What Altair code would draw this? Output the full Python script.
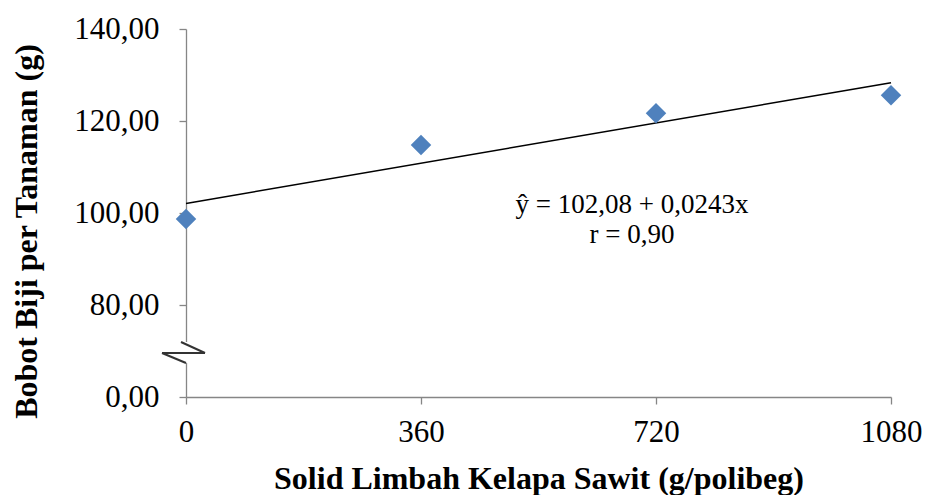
import altair as alt
import pandas as pd

# Data
dosis = [0, 360, 720, 1080]
bobot = [98.7, 114.8, 121.7, 125.6]

# Regression: y = 102.08 + 0.0243 x
intercept = 102.08
slope = 0.0243
line_x = [0, 1080]

y_ticks = [60, 80, 100, 120, 140]   # 60 is drawn as "0,00" (broken axis)
x_ticks = [0, 360, 720, 1080]

eq_line1 = "ŷ = 102,08 + 0,0243x"
eq_line2 = "r = 0,90"

pts = pd.DataFrame({"x": dosis, "y": bobot})
reg = pd.DataFrame({"x": line_x, "y": [intercept + slope * v for v in line_x]})

FONT = "Liberation Serif"
AXC = "#868686"

xscale = alt.Scale(domain=[0, 1080], nice=False, zero=False)
yscale = alt.Scale(domain=[60, 140], nice=False, zero=False)

xaxis = alt.Axis(
    values=x_ticks, title="Solid Limbah Kelapa Sawit (g/polibeg)", grid=False,
    format="d",
    domainColor=AXC, tickColor=AXC, tickSize=7, domainWidth=1.3, tickWidth=1.3,
    labelFont=FONT, labelFontSize=31, labelColor="black", labelPadding=13,
    labelFlush=False, labelOverlap=False,
    titleFont=FONT, titleFontSize=32, titleFontWeight="bold", titleColor="black",
    titleY=91, titleBaseline="alphabetic",
)
yaxis = alt.Axis(
    values=y_ticks, title="Bobot Biji per Tanaman (g)", grid=False,
    domainColor=AXC, tickColor=AXC, tickSize=7, domainWidth=1.3, tickWidth=1.3,
    labelFont=FONT, labelFontSize=31, labelColor="black", labelPadding=20,
    labelFlush=False, labelOverlap=False,
    labelExpr="datum.value == 60 ? '0,00\u00a0\u2009' : replace(format(datum.value, '.2f'), '.', ',')",
    titleFont=FONT, titleFontSize=32, titleFontWeight="bold", titleColor="black",
    titleAngle=270, titleX=-150, titleY=202, titleAlign="center", titleBaseline="alphabetic",
)

points = alt.Chart(pts).mark_point(
    shape="diamond", filled=True, color="#4F81BD", opacity=1, size=420
).encode(
    x=alt.X("x:Q", scale=xscale, axis=xaxis),
    y=alt.Y("y:Q", scale=yscale, axis=yaxis),
)

regline = alt.Chart(reg).mark_line(color="black", strokeWidth=1.6).encode(
    x=alt.X("x:Q", scale=xscale, axis=xaxis),
    y=alt.Y("y:Q", scale=yscale, axis=yaxis),
)

# axis break: white cover and zigzag
brk = pd.DataFrame({"k": [0]})
cover = alt.Chart(brk).mark_rect(color="white").encode(
    x=alt.value(-28), x2=alt.value(36), y=alt.value(313), y2=alt.value(334)
)
zig = pd.DataFrame({
    "x1": [-5, 19, -24], "y1": [313, 324, 324],
    "x2": [19, -24, 0], "y2": [324, 324, 334],
})
zz = alt.Chart(zig).mark_rule(color="#333333", strokeWidth=2).encode(
    x=alt.X("x1:Q", scale=None), x2="x2:Q",
    y=alt.Y("y1:Q", scale=None), y2="y2:Q",
)

t1 = alt.Chart(pd.DataFrame({"t": [eq_line1]})).mark_text(
    font=FONT, fontSize=27, color="black", align="center", baseline="alphabetic"
).encode(text="t:N", x=alt.value(446), y=alt.value(184))
t2 = alt.Chart(pd.DataFrame({"t": [eq_line2]})).mark_text(
    font=FONT, fontSize=27, color="black", align="center", baseline="alphabetic"
).encode(text="t:N", x=alt.value(446), y=alt.value(214))

chart = alt.layer(regline, points, cover, zz, t1, t2).properties(
    width=705, height=368,
    autosize=alt.AutoSizeParams(type="none"),
    padding={"left": 186, "top": 29, "right": 35, "bottom": 98},
    background="white",
).configure_view(stroke=None)

chart.save("out.html", embed_options={"renderer": "svg", "actions": False})
